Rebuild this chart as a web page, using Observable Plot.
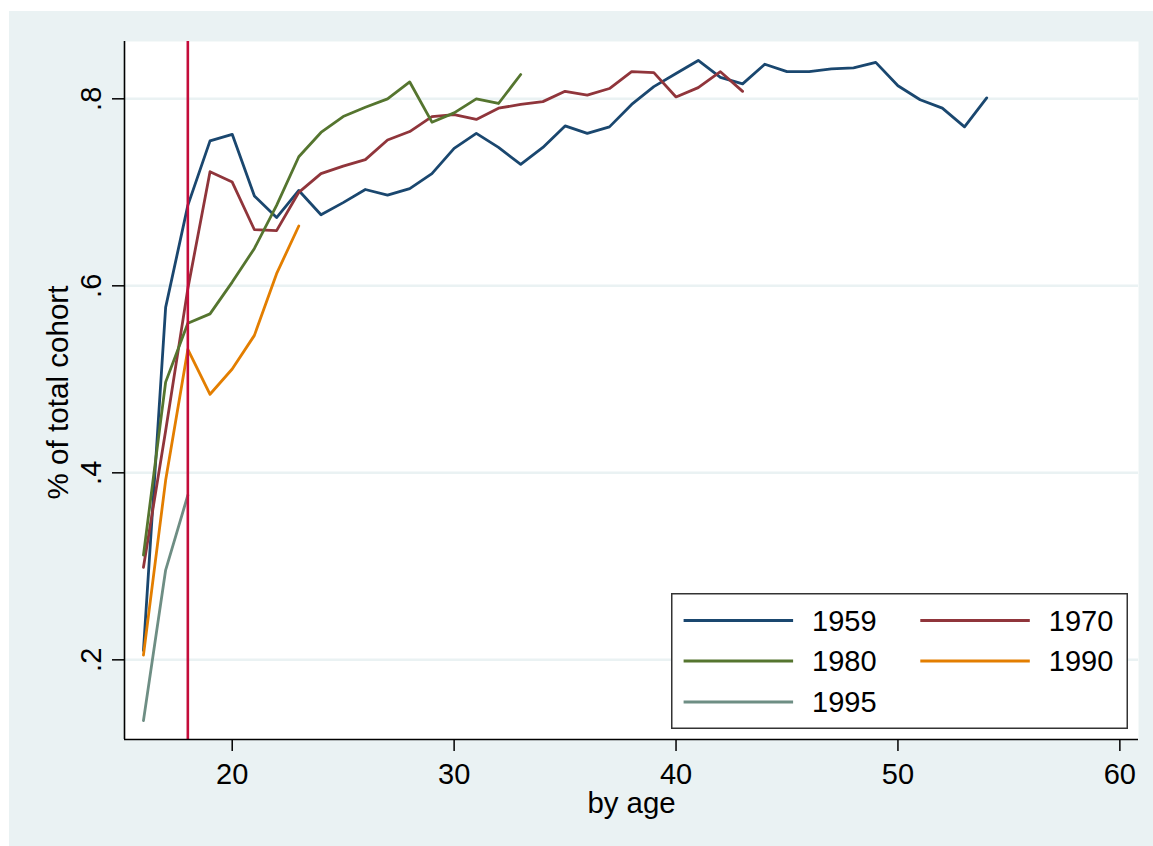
<!DOCTYPE html>
<html>
<head>
<meta charset="utf-8">
<script src="https://cdn.jsdelivr.net/npm/d3@7"></script>
<script src="https://cdn.jsdelivr.net/npm/@observablehq/plot@0.6"></script>
<style>
html, body { margin: 0; padding: 0; background: #ffffff; }
#wrap { position: absolute; left: 9px; top: 11px; width: 1144px; height: 835px; background: #eaf2f3;
        font-family: "Liberation Sans", Arial, sans-serif; }
#legend { position: absolute; left: 662px; top: 582px; }
</style>
</head>
<body>
<div id="wrap"><div id="legend"></div></div>
<script>
// ---- data ----
const startAge = 16;
const cohorts = ["1959", "1970", "1980", "1990", "1995"];
const colors = ["#1a476f", "#90353b", "#55752f", "#e37e00", "#6e8e84"];
const v1959 = [0.210, 0.577, 0.686, 0.755, 0.762, 0.696, 0.673, 0.702, 0.676, 0.689,
               0.703, 0.697, 0.704, 0.720, 0.747, 0.763, 0.748, 0.730, 0.748, 0.771,
               0.763, 0.770, 0.794, 0.813, 0.827, 0.841, 0.823, 0.816, 0.837, 0.829,
               0.829, 0.832, 0.833, 0.839, 0.814, 0.799, 0.790, 0.770, 0.801];
const v1970 = [0.299, 0.445, 0.597, 0.722, 0.711, 0.660, 0.659, 0.700, 0.720, 0.728,
               0.735, 0.756, 0.765, 0.781, 0.783, 0.778, 0.790, 0.794, 0.797, 0.808,
               0.804, 0.811, 0.829, 0.828, 0.802, 0.812, 0.829, 0.808];
const v1980 = [0.312, 0.497, 0.560, 0.570, 0.604, 0.640, 0.686, 0.738, 0.764, 0.781,
               0.791, 0.800, 0.818, 0.775, 0.785, 0.800, 0.795, 0.826];
const v1990 = [0.205, 0.392, 0.532, 0.484, 0.511, 0.547, 0.613, 0.664];
const v1995 = [0.135, 0.296, 0.376];
const refAge = 18;
const xTicks = [20, 30, 40, 50, 60];
const yTicks = [0.2, 0.4, 0.6, 0.8];
const xTitle = "by age";
const yTitle = "% of total cohort";

const seriesValues = [v1959, v1970, v1980, v1990, v1995];
const rows = [];
cohorts.forEach((c, i) => seriesValues[i].forEach((v, j) => rows.push({cohort: c, age: startAge + j, value: v})));

const xDomain = [15.146, 60.84];
const yDomain = [0.1148, 0.8613];
const fmtY = d => d3.format(".1f")(d).replace(/^0/, "");
const FONT = "\"Liberation Sans\", Arial, sans-serif";

const chart = Plot.plot({
  width: 1144, height: 835,
  marginLeft: 115, marginRight: 15, marginTop: 30, marginBottom: 107,
  x: {domain: xDomain, label: null},
  y: {domain: yDomain, label: null},
  color: {domain: cohorts, range: colors},
  style: {background: "transparent", fontFamily: FONT, fontSize: "29px", color: "#000"},
  marks: [
    Plot.frame({fill: "white", stroke: null}),
    Plot.ruleY(yTicks, {y: d => d, stroke: "#eaf2f3", strokeWidth: 2.5}),
    Plot.line(rows, {x: "age", y: "value", z: "cohort", stroke: "cohort", strokeWidth: 2.8}),
    Plot.ruleX([refAge], {x: d => d, stroke: "#c40c3a", strokeWidth: 2.6}),
    Plot.ruleX([xDomain[0]], {x: d => d, stroke: "#000", strokeWidth: 1.6}),
    Plot.ruleY([yDomain[0]], {y: d => d, stroke: "#000", strokeWidth: 1.6}),
    Plot.axisX({ticks: xTicks, tickSize: 12, tickPadding: 12, fontSize: 29, tickFormat: d => String(d),
                stroke: "#000", strokeWidth: 1.5, label: null}),
    Plot.axisY({ticks: yTicks, tickSize: 12, tickFormat: () => "", stroke: "#000", strokeWidth: 1.5, label: null}),
    Plot.text(yTicks, {y: d => d, text: fmtY, frameAnchor: "left", dx: -24, rotate: -90,
                       lineAnchor: "bottom", textAnchor: "middle", fontSize: 29, fill: "#000"}),
    Plot.text([yTitle], {text: d => d, frameAnchor: "left", dx: -57, dy: 2, rotate: -90,
                         lineAnchor: "bottom", textAnchor: "middle", fontSize: 29.6, fill: "#000"}),
    Plot.text([xTitle], {text: d => d, frameAnchor: "bottom", dy: 73,
                         lineAnchor: "bottom", textAnchor: "middle", fontSize: 29.4, fill: "#000"})
  ]
});
document.getElementById("wrap").insertBefore(chart, document.getElementById("legend"));

// ---- legend (Stata-style box, 2 columns) ----
const LW = 457, LH = 136;
const lsvg = d3.select("#legend").append("svg").attr("width", LW).attr("height", LH)
  .style("font-family", FONT).style("display", "block");
lsvg.append("rect").attr("x", 0.75).attr("y", 0.75).attr("width", LW - 1.5).attr("height", LH - 1.5)
  .attr("fill", "white").attr("stroke", "#333").attr("stroke-width", 1.5);
const rowY = [27.5, 68, 109];
const colX = [12.6, 249.3];
cohorts.forEach((c, i) => {
  const r = Math.floor(i / 2), k = i % 2;
  const g = lsvg.append("g").attr("transform", `translate(${colX[k]},${rowY[r]})`);
  g.append("line").attr("x1", 0).attr("x2", 109.5).attr("y1", 0).attr("y2", 0)
    .attr("stroke", colors[i]).attr("stroke-width", 2.8);
  g.append("text").attr("x", 128.5).attr("y", 0).attr("dy", "0.36em")
    .attr("font-size", 29).attr("fill", "#000").text(c);
});
</script>
</body>
</html>
